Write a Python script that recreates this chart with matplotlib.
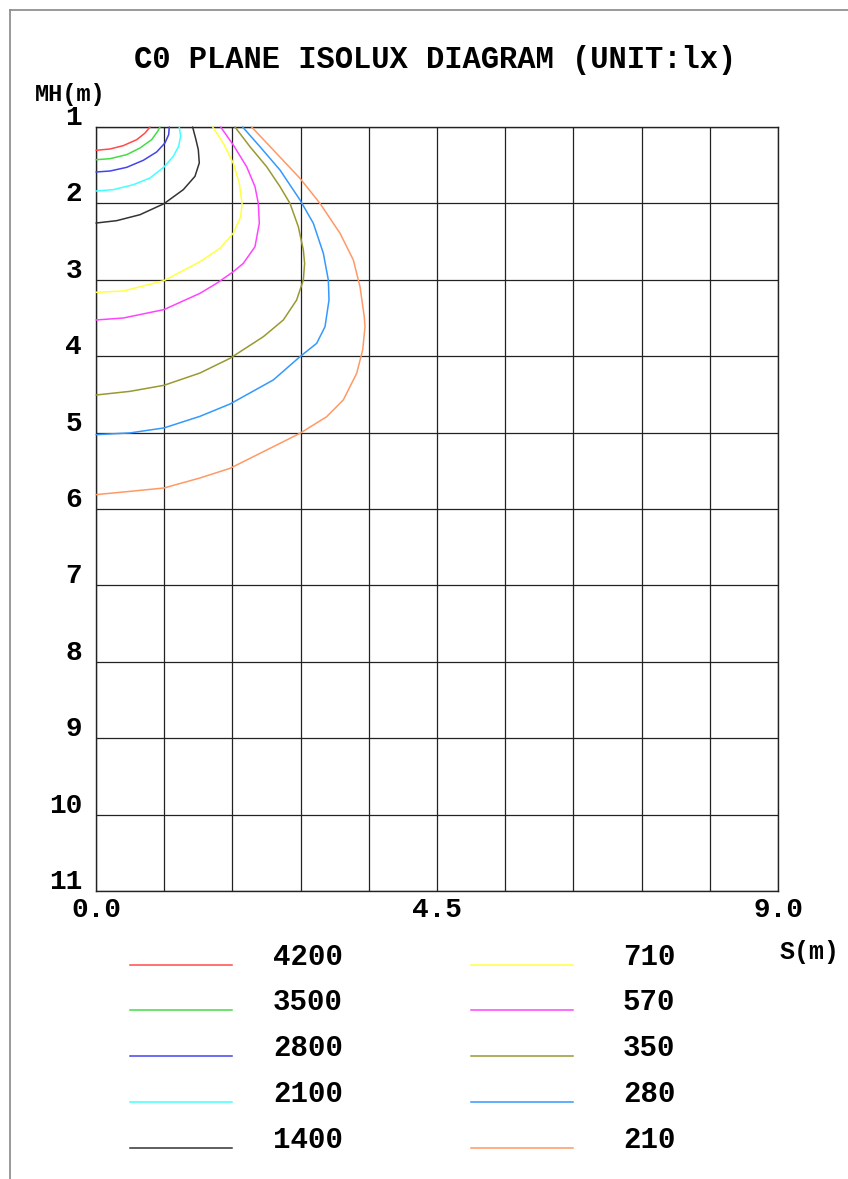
import matplotlib
matplotlib.use("Agg")
import matplotlib.pyplot as plt
import matplotlib.transforms as mtransforms
import numpy as np

# ---- data ----
levels = [4200, 3500, 2800, 2100, 1400, 710, 570, 350, 280, 210]
colors = ['#ff4a4a', '#44dd44', '#4444ee', '#44ffff', '#333333',
          '#ffff44', '#ff44ff', '#999933', '#3399ff', '#ff9966']

x4200 = [0, 0.185, 0.36, 0.537, 0.647, 0.713]
y4200 = [1.305, 1.288, 1.244, 1.166, 1.079, 1.0]
x3500 = [0, 0.185, 0.405, 0.58, 0.734, 0.814, 0.844]
y3500 = [1.428, 1.415, 1.362, 1.275, 1.166, 1.057, 1.0]
x2800 = [0, 0.185, 0.405, 0.624, 0.8, 0.91, 0.959, 0.967]
y2800 = [1.589, 1.576, 1.528, 1.436, 1.327, 1.209, 1.1, 1.0]
x2100 = [0, 0.229, 0.493, 0.712, 0.897, 1.02, 1.09, 1.117, 1.099]
y2100 = [1.838, 1.82, 1.755, 1.668, 1.524, 1.384, 1.253, 1.122, 1.0]
x1400 = [0, 0.273, 0.58, 0.897, 1.152, 1.306, 1.363, 1.35, 1.319, 1.275]
y1400 = [2.257, 2.226, 2.148, 2.004, 1.82, 1.646, 1.471, 1.297, 1.166, 1.0]
x710 = [0, 0.361, 0.897, 1.372, 1.636, 1.812, 1.909, 1.927, 1.891, 1.812, 1.68, 1.54]
y710 = [3.164, 3.147, 3.011, 2.763, 2.588, 2.39, 2.174, 2.0, 1.737, 1.475, 1.213, 1.0]
x570 = [0, 0.361, 0.897, 1.372, 1.592, 1.812, 1.944, 2.098, 2.155, 2.142, 2.098, 1.988, 1.812, 1.645]
y570 = [3.526, 3.5, 3.39, 3.177, 3.046, 2.894, 2.785, 2.567, 2.26, 2.0, 1.78, 1.52, 1.236, 1.0]
x350 = [0, 0.449, 0.897, 1.372, 1.768, 2.208, 2.472, 2.648, 2.736, 2.753, 2.736, 2.67, 2.56,
        2.428, 2.252, 2.032, 1.834]
y350 = [4.508, 4.46, 4.381, 4.22, 4.028, 3.745, 3.526, 3.264, 3.003, 2.785, 2.61, 2.305, 2.0,
        1.78, 1.52, 1.258, 1.0]
x280 = [0, 0.449, 0.897, 1.372, 1.768, 2.34, 2.692, 2.912, 3.022, 3.075, 3.066, 3.0, 2.868,
        2.692, 2.428, 2.164, 1.935]
y280 = [5.027, 5.004, 4.939, 4.787, 4.626, 4.311, 4.006, 3.832, 3.614, 3.264, 3.003, 2.653, 2.26,
        1.955, 1.563, 1.258, 1.0]
x210 = [0, 0.449, 0.897, 1.372, 1.768, 2.252, 2.692, 3.044, 3.263, 3.44, 3.519, 3.55, 3.54,
        3.484, 3.396, 3.22, 2.956, 2.692, 2.34, 2.054]
y210 = [5.812, 5.769, 5.725, 5.594, 5.468, 5.228, 5.009, 4.792, 4.573, 4.224, 3.919, 3.614, 3.483,
        3.09, 2.741, 2.391, 2.0, 1.672, 1.301, 1.0]

curves_x = [x4200, x3500, x2800, x2100, x1400, x710, x570, x350, x280, x210]
curves_y = [y4200, y3500, y2800, y2100, y1400, y710, y570, y350, y280, y210]

y_ticks = list(range(1, 12))
x_ticks = [0.0, 4.5, 9.0]
x_tick_labels = ['0.0', '4.5', '9.0']

FONT = dict(family='Liberation Mono', weight='bold')
W, H = 848, 1179
fig = plt.figure(figsize=(W / 100, H / 100), dpi=100)

# overlay for frame / legend (pixel coordinates)
ov = fig.add_axes([0, 0, 1, 1])
ov.set_xlim(0, W)
ov.set_ylim(H, 0)
ov.axis('off')
ov.plot([10, W], [10, 10], color='#888888', lw=1.2)
ov.plot([10, 10], [10, H], color='#888888', lw=1.2)

L, R, T, B = 96, 778, 127, 891
ax = fig.add_axes([L / W, 1 - B / H, (R - L) / W, (B - T) / H])
ax.set_xlim(0, 9)
ax.set_ylim(11, 1)
ax.set_xticks([])
ax.set_yticks([])
for s in ax.spines.values():
    s.set_color('#222222')
    s.set_linewidth(1.0)
for gx in np.linspace(0, 9, 11):
    ax.axvline(gx, color='#222222', lw=0.9, zorder=1)
for gy in y_ticks:
    ax.axhline(gy, color='#222222', lw=0.9, zorder=1)

for cx, cy, c in zip(curves_x, curves_y, colors):
    ax.plot(cx, cy, color=c, lw=1.1, zorder=3, clip_on=False,
            solid_joinstyle='round', solid_capstyle='round')

# y tick labels
ytr = ax.get_yaxis_transform() + mtransforms.ScaledTranslation(-14 / 100, 9 / 100, fig.dpi_scale_trans)
for v in y_ticks:
    ax.text(0, v, str(v), transform=ytr, ha='right', va='center', fontsize=20, **FONT)
xtr = ax.get_xaxis_transform() + mtransforms.ScaledTranslation(0, -19 / 100, fig.dpi_scale_trans)
for v, lab in zip(x_ticks, x_tick_labels):
    ax.text(v, 0, lab, transform=xtr, ha='center', va='center', fontsize=20, **FONT)

ov.text(435, 60, 'C0 PLANE ISOLUX DIAGRAM (UNIT:lx)', ha='center', va='center', fontsize=22, **FONT)
ov.text(35, 94, 'MH(m)', ha='left', va='center', fontsize=17, **FONT)
ov.text(780, 952, 'S(m)', ha='left', va='center', fontsize=18, **FONT)

# legend
rows = [965, 1010, 1056, 1102, 1148]
for i, (lev, c) in enumerate(zip(levels, colors)):
    col = i // 5
    y = rows[i % 5]
    x0, x1, xt = (130, 232, 273) if col == 0 else (471, 573, 623)
    ov.plot([x0, x1], [y, y], color=c, lw=1.1)
    ov.text(xt, y - 8, str(lev), ha='left', va='center', fontsize=21, **FONT)

fig.savefig('out.png', dpi=100)
